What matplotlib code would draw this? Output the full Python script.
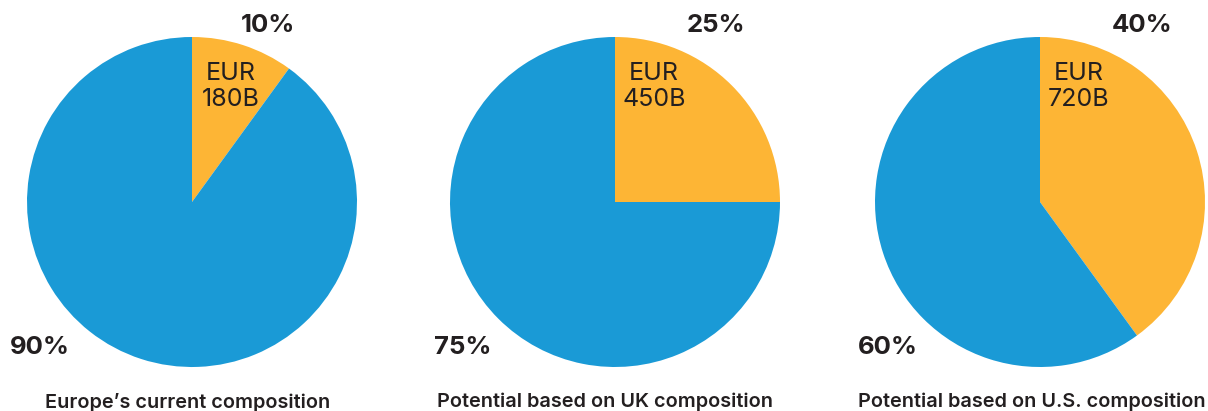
import matplotlib
matplotlib.use("Agg")
from matplotlib import pyplot as plt

# dados
titulos = ["Europe\u2019s current composition",
           "Potential based on UK composition",
           "Potential based on U.S. composition"]
parcela_eur = [10, 25, 40]          # % laranja
valores_eur = ["180B", "450B", "720B"]

azul = "#1a9ad6"
laranja = "#fdb535"
texto = "#231f20"

plt.rcParams["font.family"] = ["Inter", "DejaVu Sans"]

W, H = 1208, 411
fig = plt.figure(figsize=(W / 100, H / 100), dpi=100)

centros_x = [192, 615, 1040]   # px
centro_y = 202
raio = 165
pos_pct_laranja = [0.46, 0.61, 0.62]
centros_titulo = [188, 605, 1032]

for i in range(3):
    cx = centros_x[i]
    ax = fig.add_axes([(cx - raio) / W, (H - centro_y - raio) / H,
                       2 * raio / W, 2 * raio / H])
    p = parcela_eur[i]
    ax.pie([p, 100 - p], colors=[laranja, azul], startangle=90,
           counterclock=False, radius=1, wedgeprops=dict(linewidth=0))
    ax.set_xlim(-1, 1)
    ax.set_ylim(-1, 1)
    ax.set_aspect("equal")
    ax.axis("off")

    # percentuais
    ax.text(pos_pct_laranja[i], 1.07, f"{p}%", ha="center", va="center",
            fontsize=18.5, fontweight="bold", color=texto, clip_on=False)
    ax.text(-0.92, -0.88, f"{100 - p}%", ha="center", va="center",
            fontsize=18.5, fontweight="bold", color=texto, clip_on=False)
    # valor em EUR
    ax.text(39 / raio, 0.70, "EUR\n" + valores_eur[i], ha="center", va="center",
            multialignment="center", fontsize=18, color=texto, linespacing=1.2)

    fig.text(centros_titulo[i] / W, 1 - 402 / H, titulos[i], ha="center", va="center",
             fontsize=14.3, fontweight="semibold", color=texto)

plt.savefig("out.png", dpi=100)
plt.close()
